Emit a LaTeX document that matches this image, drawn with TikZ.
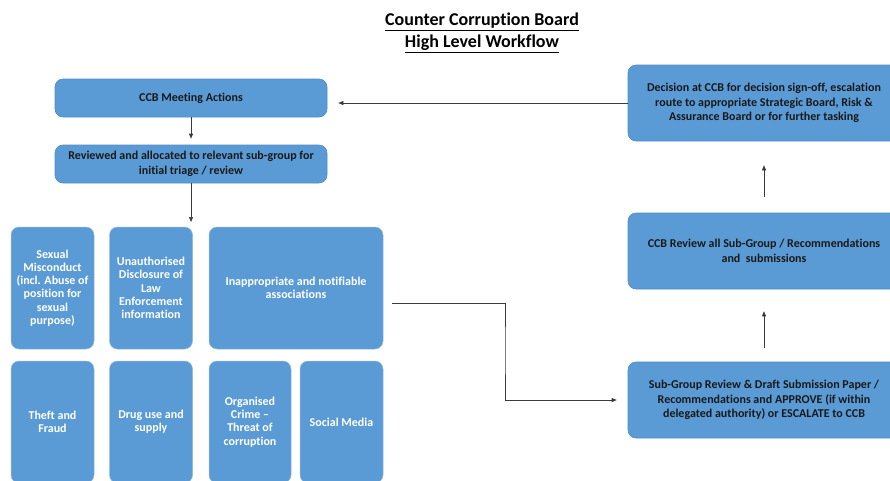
\documentclass[tikz,border=0pt]{standalone}
\usepackage{fontspec}
\setmainfont{Carlito}[Ligatures=NoCommon]
\usetikzlibrary{arrows.meta}
\definecolor{boxblue}{HTML}{5B9BD5}
\definecolor{boxedge}{HTML}{4F8CC4}
\definecolor{arrowgrey}{HTML}{3A3A3A}
\newcommand{\boxfont}{\fontsize{12}{14.7}\selectfont\bfseries}
\newcommand{\tilefont}{\fontsize{12}{13.3}\selectfont\bfseries}

\begin{document}
\begin{tikzpicture}[x=1pt,y=-1pt,
	box/.style={rectangle,rounded corners=8pt,fill=boxblue,draw=boxedge,line width=0.6pt,
		minimum width=272pt,minimum height=38pt,align=center,text=black!90,font=\boxfont},
	tile/.style={rectangle,rounded corners=8pt,fill=boxblue,draw=boxedge!60!white,line width=0.5pt,
		minimum width=83pt,minimum height=122pt,inner sep=2pt,align=center,text=white,font=\tilefont},
	arr/.style={draw=arrowgrey,line width=0.6pt,-{Triangle[length=5pt,width=4pt]}}]
		\useasboundingbox (0,0) rectangle (890,480);
		\node (title) at (482,33) [align=center,font=\fontsize{18}{22}\selectfont\bfseries]
			{\underline{Counter Corruption Board}\\\underline{High Level Workflow}};
		% left column
		\node (meet) [box] at (191,98) {CCB Meeting Actions};
		\node (triage) [box] at (191,164) {Reviewed and allocated to relevant sub-group for\\initial triage / review};
		\draw[arr,shorten >=6pt] (meet) -- (triage);
		\coordinate (drop) at (191,222);
		\draw[arr] (triage) -- (drop);
		% sub-group areas
		\node (sexual) [tile] at (52.5,288) {Sexual\\Misconduct\\(incl. Abuse of\\position for\\sexual\\purpose)};
		\node (disclose) [tile] at (151,288) {Unauthorised\\Disclosure of\\Law\\Enforcement\\information};
		\node (assoc) [tile,minimum width=174pt] at (296,288) {Inappropriate and notifiable\\associations};
		\node (theft) [tile] at (52.5,422) {Theft and\\Fraud};
		\node (drugs) [tile] at (151,422) {Drug use and\\supply};
		\node (orgcrime) [tile,minimum width=82pt] at (250,422) {Organised\\Crime --\\Threat of\\corruption};
		\node (social) [tile] at (341.5,422) {Social Media};
		% right column
		\node (decision) [box,minimum height=76pt] at (764,103) {Decision at CCB for decision sign-off, escalation\\route to appropriate Strategic Board, Risk \&\\Assurance Board or for further tasking};
		\node (review) [box,minimum height=76pt] at (764,251) {CCB Review all Sub-Group / Recommendations\\and~ submissions};
		\node (subgroup) [box,minimum height=76pt] at (764,400) {Sub-Group Review \& Draft Submission Paper /\\Recommendations and APPROVE (if within\\delegated authority) or ESCALATE to CCB};
		\draw[arr,shorten <=14pt,shorten >=22pt] (subgroup) -- (review);
		\draw[arr,shorten <=16pt,shorten >=24pt] (review) -- (decision);
		\draw[arr,shorten >=11pt] (decision.west) -- (decision.west -| meet.east);
		\coordinate (elbow) at (505,350);
		\draw[arr] ([shift={(9,15)}]assoc.east) -| (elbow) |- ([xshift=-11pt]subgroup.west);
	\end{tikzpicture}
\end{document}
